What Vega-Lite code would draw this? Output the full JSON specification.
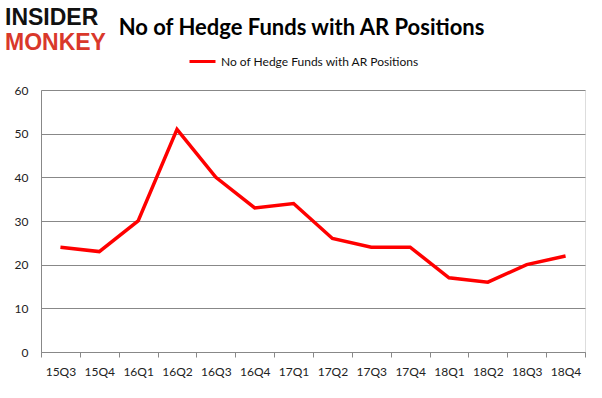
{
  "$schema": "https://vega.github.io/schema/vega-lite/v6.json",
  "width": 544,
  "height": 262,
  "autosize": "none",
  "padding": {"left": 41, "top": 90, "right": 17, "bottom": 46},
  "background": "white",
  "title": {
    "text": "INSIDER",
    "subtitle": "MONKEY",
    "anchor": "start",
    "frame": "group",
    "dx": -36,
    "dy": 39,
    "font": "Liberation Sans",
    "fontSize": 23,
    "fontWeight": "bold",
    "color": "#111111",
    "subtitleFont": "Liberation Sans",
    "subtitleFontSize": 23,
    "subtitleFontWeight": "bold",
    "subtitleColor": "#d9382b",
    "subtitlePadding": 2,
    "offset": 0
  },
  "data": {
    "values": [
      {"quarter": "15Q3", "funds": 24},
      {"quarter": "15Q4", "funds": 23},
      {"quarter": "16Q1", "funds": 30},
      {"quarter": "16Q2", "funds": 51},
      {"quarter": "16Q3", "funds": 40},
      {"quarter": "16Q4", "funds": 33},
      {"quarter": "17Q1", "funds": 34},
      {"quarter": "17Q2", "funds": 26},
      {"quarter": "17Q3", "funds": 24},
      {"quarter": "17Q4", "funds": 24},
      {"quarter": "18Q1", "funds": 17},
      {"quarter": "18Q2", "funds": 16},
      {"quarter": "18Q3", "funds": 20},
      {"quarter": "18Q4", "funds": 22}
    ]
  },
  "mark": {"type": "line", "strokeWidth": 3.5},
  "encoding": {
    "x": {
      "field": "quarter",
      "type": "ordinal",
      "sort": null,
      "bandPosition": 0.5,
      "scale": {"type": "band", "paddingInner": 0, "paddingOuter": 0},
      "axis": {
        "title": null,
        "labelAngle": 0,
        "tickBand": "extent",
        "grid": false,
        "domainColor": "#888888",
        "tickColor": "#888888",
        "tickSize": 5,
        "labelPadding": 9,
        "labelFont": "Lato",
        "labelFontSize": 12,
        "labelColor": "#222222"
      }
    },
    "y": {
      "field": "funds",
      "type": "quantitative",
      "scale": {"domain": [0, 60]},
      "axis": {
        "values": [0, 10, 20, 30, 40, 50, 60],
        "grid": true,
        "gridColor": "#888888",
        "domainColor": "#888888",
        "ticks": false,
        "labelPadding": 13,
        "labelFont": "Lato",
        "labelFontSize": 12,
        "labelColor": "#222222",
        "title": "No of Hedge Funds with AR Positions",
        "titleAngle": 0,
        "titleX": 260,
        "titleY": -63,
        "titleAlign": "center",
        "titleBaseline": "middle",
        "titleFont": "Lato",
        "titleFontSize": 22,
        "titleFontWeight": "bold",
        "titleColor": "#000000"
      }
    },
    "color": {
      "datum": "No of Hedge Funds with AR Positions",
      "type": "nominal",
      "scale": {"range": ["#ff0000"]},
      "legend": {
        "title": null,
        "orient": "none",
        "legendX": 147,
        "legendY": -43,
        "symbolType": "stroke",
        "symbolSize": 676,
        "symbolStrokeWidth": 3,
        "labelLimit": 400,
        "labelFont": "Lato",
        "labelFontSize": 12,
        "labelColor": "#111111"
      }
    }
  }
}
